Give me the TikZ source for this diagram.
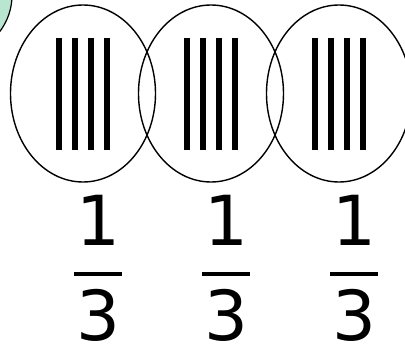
\documentclass[tikz,border=0pt]{standalone}
\usepackage{fontspec}
\setmainfont{DejaVu Sans}
\usetikzlibrary{shapes.geometric}
\definecolor{mintFill}{HTML}{B8E6D0}
\begin{document}
\begin{tikzpicture}[
    x=1pt, y=-1pt,
    % --- shape styles ---
    ring/.style={draw, ellipse, line width=1.4pt, minimum width=145pt,
                 minimum height=177pt, inner sep=0pt},
    tally/.style={line width=6pt},
    digit/.style={font=\fontsize{69}{69}\selectfont, inner sep=0pt,
                  text depth=0pt, anchor=base},
    fracbar/.style={line width=3.5pt},
]
\useasboundingbox (0,0) rectangle (405,350);

% -- corner disc --
\draw[fill=mintFill, line width=1.2pt] (-49,-5) circle (61pt);

% ===== GROUPS ================================================================
\foreach \cx/\name in {83/a, 211/b, 339/c} {
  \node[ring] (ring\name) at (\cx, 93.5) {};
  \foreach \dx in {-24,-8,8,24}
    \draw[tally] (\cx+\dx, 38) -- (\cx+\dx, 150);
  % -- fraction --
  \node[digit] (num\name) at (\cx+15, 246) {1};
  \node[digit] (den\name) at (\cx+15, 341) {3};
  \draw[fracbar] (\cx-9, 274) -- (\cx+39, 274);
}
\end{tikzpicture}
\end{document}
